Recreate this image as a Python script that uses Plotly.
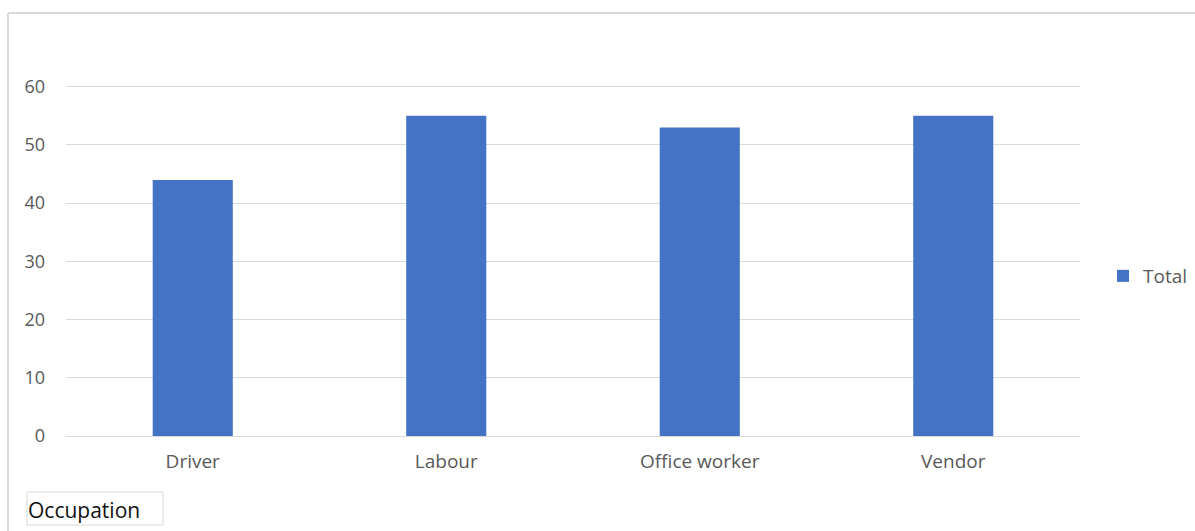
import plotly.graph_objects as go

occupations = ["Driver", "Labour", "Office worker", "Vendor"]
totals = [44, 55, 53, 55]
y_ticks = [0, 10, 20, 30, 40, 50, 60]

W, H = 1195, 531
L, R, T, B = 66, 115, 85, 95
pw, ph = W - L - R, H - T - B
GRID = "#d9d9d9"


def px_x(x):
    return (x - L) / pw


def px_y(y):
    return (H - B - y) / ph


fig = go.Figure(
    go.Bar(
        x=occupations,
        y=totals,
        name="Total",
        marker=dict(color="#4472C4", line=dict(width=0)),
        showlegend=True,
    )
)

fig.update_layout(
    width=W,
    height=H,
    margin=dict(l=L, r=R, t=T, b=B, autoexpand=False),
    paper_bgcolor="white",
    plot_bgcolor="white",
    bargap=0.684,
    font=dict(family="Open Sans, Segoe UI, sans-serif", color="#595959", size=18),
    xaxis=dict(
        showgrid=False,
        showline=False,
        ticks="",
        tickfont=dict(size=19, color="#595959"),
        ticklabelstandoff=12,
    ),
    yaxis=dict(
        # small headroom so the top gridline is not clipped at the edge
        range=[0, y_ticks[-1] + 0.3],
        tickvals=y_ticks,
        showgrid=True,
        gridcolor=GRID,
        gridwidth=1,
        zeroline=True,
        zerolinecolor=GRID,
        zerolinewidth=1,
        showline=False,
        ticks="",
        tickfont=dict(size=18, color="#595959"),
        ticklabelstandoff=20,
    ),
    legend=dict(
        x=px_x(1103),
        y=px_y(276),
        xanchor="left",
        yanchor="middle",
        font=dict(size=19, color="#595959"),
        itemwidth=30,
        bgcolor="rgba(0,0,0,0)",
    ),
    shapes=[
        # chart frame (top and left edges)
        dict(type="line", xref="paper", yref="paper",
             x0=px_x(8), x1=px_x(W + 2), y0=px_y(13), y1=px_y(13),
             line=dict(color=GRID, width=2)),
        dict(type="line", xref="paper", yref="paper",
             x0=px_x(8), x1=px_x(8), y0=px_y(13), y1=px_y(H + 2),
             line=dict(color=GRID, width=2)),
        # field button outline
        dict(type="rect", xref="paper", yref="paper",
             x0=px_x(27), x1=px_x(163), y0=px_y(492), y1=px_y(525),
             line=dict(color=GRID, width=1), fillcolor="rgba(0,0,0,0)"),
    ],
    annotations=[
        dict(
            text="Occupation",
            xref="paper", yref="paper",
            x=px_x(27), y=px_y(510),
            xanchor="left", yanchor="middle",
            showarrow=False,
            font=dict(size=21, color="#111111", family="Open Sans, Segoe UI, sans-serif"),
            borderpad=0,
            align="left",
        )
    ],
)

fig.write_html("out.html")
